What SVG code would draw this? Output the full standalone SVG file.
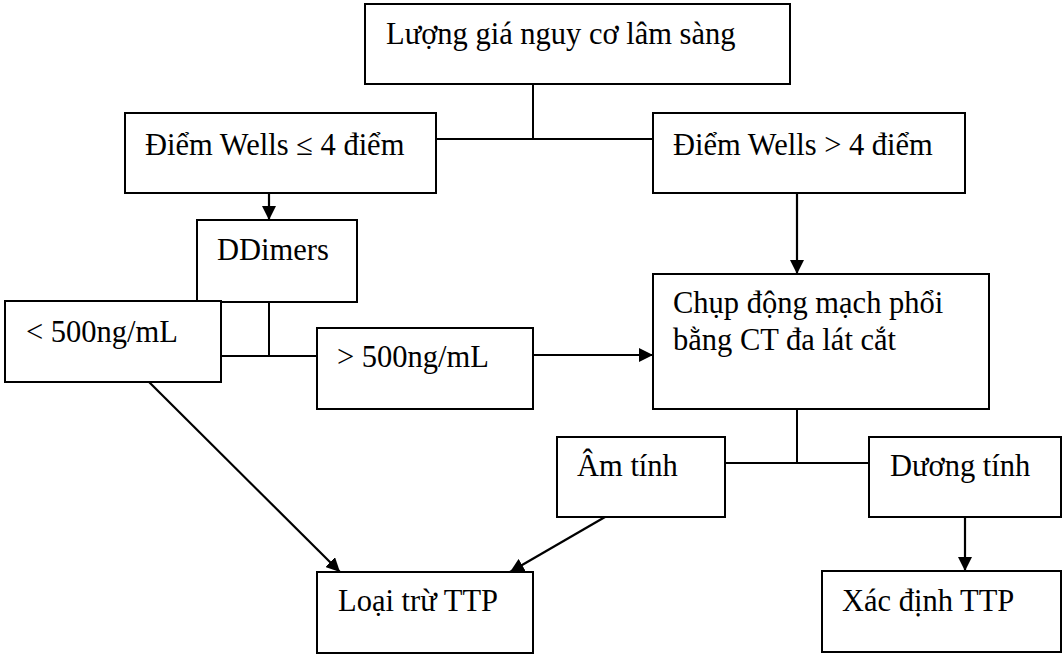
<svg xmlns="http://www.w3.org/2000/svg" width="1062" height="654" viewBox="0 0 1062 654">
<style>
.box{fill:#fff;stroke:#000;stroke-width:2}
.t{font-family:'Liberation Serif','Times New Roman',serif;font-size:30.5px;fill:#000}
.ln{fill:none;stroke:#000;stroke-width:2}
.ar{fill:none;stroke:#000;stroke-width:2.2;marker-end:url(#ah)}
</style>
<defs>
<marker id="ah" markerUnits="userSpaceOnUse" markerWidth="16" markerHeight="14" refX="14" refY="7" orient="auto">
<path d="M0,0 L14,7 L0,14 Z" fill="#000"/>
</marker>
</defs>
<rect width="1062" height="654" fill="#fff"/>
<g id="connectors">
<path class="ln" d="M533,84 V139 M437,139 H653"/>
<path class="ar" d="M269,193 V220"/>
<path class="ar" d="M797,193 V274"/>
<path class="ln" d="M269,302 V356 M221,356 H317"/>
<path class="ar" d="M533,355 H653"/>
<path class="ln" d="M797,409 V463 M725,463 H869"/>
<path class="ar" d="M965,517 V571"/>
<path class="ar" d="M149,382 L340,572"/>
<path class="ar" d="M605,517 L510,572"/>
</g>
<g id="n1"><rect class="box" x="365" y="4" width="425" height="80"/><text class="t" x="386" y="44">Lượng giá nguy cơ lâm sàng</text></g>
<g id="n2"><rect class="box" x="125" y="113" width="311" height="80"/><text class="t" x="145" y="155">Điểm Wells ≤ 4 điểm</text></g>
<g id="n3"><rect class="box" x="653" y="113" width="312" height="80"/><text class="t" x="673" y="155">Điểm Wells &gt; 4 điểm</text></g>
<g id="n4"><rect class="box" x="197" y="220" width="160" height="82"/><text class="t" x="217" y="260">DDimers</text></g>
<g id="n5"><rect class="box" x="5" y="301" width="216" height="81"/><text class="t" x="26" y="342">&lt; 500ng/mL</text></g>
<g id="n6"><rect class="box" x="317" y="328" width="216" height="81"/><text class="t" x="337" y="367">&gt; 500ng/mL</text></g>
<g id="n7"><rect class="box" x="653" y="274" width="336" height="135"/><text class="t" x="673" y="313">Chụp động mạch phổi</text><text class="t" x="673" y="350">bằng CT đa lát cắt</text></g>
<g id="n8"><rect class="box" x="557" y="437" width="168" height="80"/><text class="t" x="577" y="476">Âm tính</text></g>
<g id="n9"><rect class="box" x="869" y="437" width="192" height="80"/><text class="t" x="890" y="476">Dương tính</text></g>
<g id="n10"><rect class="box" x="317" y="572" width="216" height="81"/><text class="t" x="338" y="611">Loại trừ TTP</text></g>
<g id="n11"><rect class="box" x="822" y="571" width="239" height="81"/><text class="t" x="842" y="611">Xác định TTP</text></g>
</svg>
